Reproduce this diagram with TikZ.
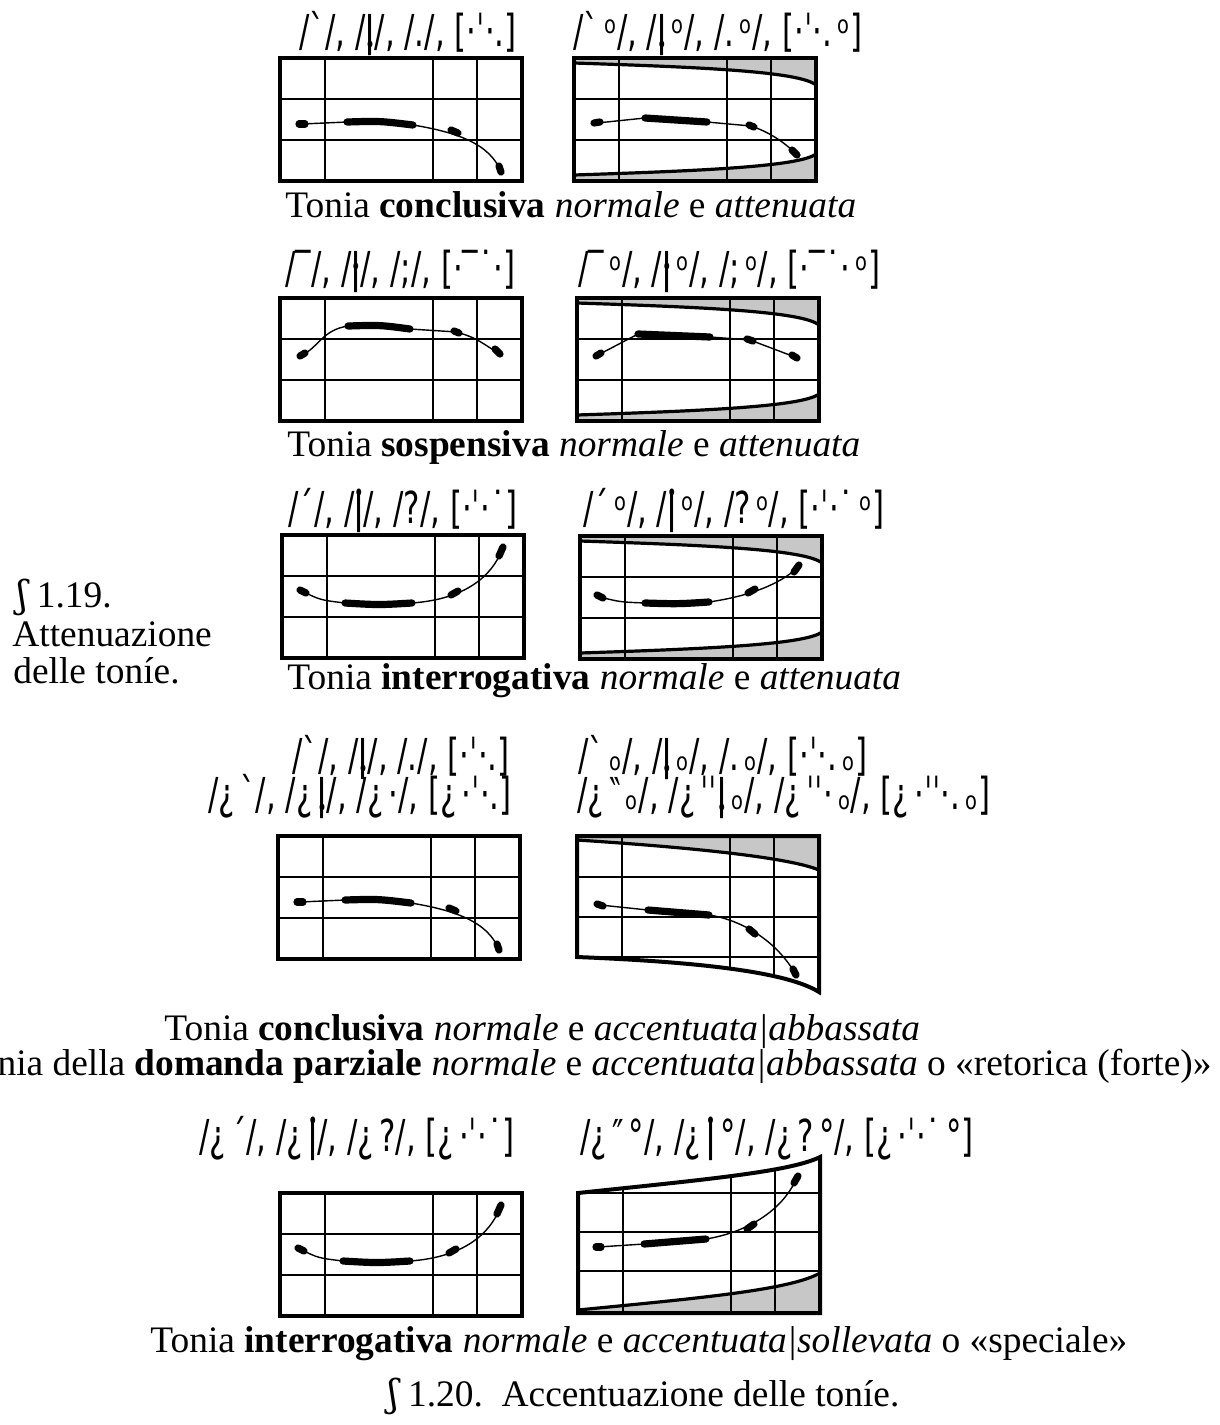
\documentclass[tikz,border=0pt]{standalone}
\usepackage{fontspec}
\usepackage{graphicx}
\setmainfont{Liberation Serif}
\newfontfamily\tonefont{DejaVu Sans}
\newfontfamily\ipafont{DejaVu Serif}
\definecolor{shadegray}{gray}{0.78}
\newcommand\tdotglyph{\scalebox{0.55}{•}}
\newcommand\Sdn{\ooalign{ǀ\cr\hidewidth\raisebox{-0.17em}{\tdotglyph}\hidewidth\cr}}
\newcommand\Smid{\ooalign{ǀ\cr\hidewidth\raisebox{0.17em}{\tdotglyph}\hidewidth\cr}}
\newcommand\Sup{\ooalign{ǀ\cr\hidewidth\raisebox{0.50em}{\tdotglyph}\hidewidth\cr}}
\newcommand\Cmid{\raisebox{0.28em}{ₒ}}
\newcommand\tlab[1]{\scalebox{0.70}[1]{#1}}
\tikzset{
  frame/.style={line width=2pt, line join=miter},
  vthick/.style={line width=1.4pt},
  vthin/.style={line width=1pt},
  hline/.style={line width=0.8pt},
  contour/.style={line width=0.7pt},
  note/.style={line width=3.6pt, line cap=round},
  edgecurve/.style={line width=1.6pt},
  tonelab/.style={inner sep=0pt, font=\tonefont\fontsize{22}{26}\selectfont},
  captext/.style={inner sep=0pt, font=\fontsize{18.7}{22}\selectfont},
  tgrid/.pic={
    \draw[hline] (0,41) -- (242,41) (0,82) -- (242,82);
    \draw[vthick] (45,0) -- (45,123) (153,0) -- (153,123);
    \draw[vthin] (197,0) -- (197,123);
    \draw[frame] (0,0) rectangle (242,123);
  },
  tgridatt/.pic={
    \fill[shadegray] (0,0) -- (0,5) .. controls (120,9) and (225,13) .. (242,27) -- (242,0) -- cycle;
    \fill[shadegray] (0,123) -- (0,117) .. controls (120,113) and (225,109) .. (242,96) -- (242,123) -- cycle;
    \draw[hline] (0,41) -- (242,41) (0,82) -- (242,82);
    \draw[vthick] (45,0) -- (45,123) (153,0) -- (153,123);
    \draw[vthin] (197,0) -- (197,123);
    \draw[edgecurve] (0,5) .. controls (120,9) and (225,13) .. (242,27);
    \draw[edgecurve] (0,117) .. controls (120,113) and (225,109) .. (242,96);
    \draw[frame] (0,0) rectangle (242,123);
  },
  tgriddown/.pic={
    \fill[shadegray] (0,0) -- (0,4) .. controls (123,12) and (213,22) .. (242,34) -- (242,0) -- cycle;
    \begin{scope}
      \clip (0,0) -- (242,0) -- (242,156) .. controls (210,136) and (123,126) .. (0,121) -- cycle;
      \draw[hline] (0,41) -- (242,41) (0,81) -- (242,81) (0,121) -- (242,121);
      \draw[vthick] (45,0) -- (45,170) (153,0) -- (153,170);
      \draw[vthin] (197,0) -- (197,170);
    \end{scope}
    \draw[edgecurve] (0,4) .. controls (123,12) and (213,22) .. (242,34);
    \draw[frame] (0,0) -- (242,0) -- (242,156) .. controls (210,136) and (123,126) .. (0,121) -- cycle;
  },
  tgridup/.pic={
    \fill[shadegray] (0,120) -- (0,117) .. controls (122,105) and (212,97) .. (242,80) -- (242,120) -- cycle;
    \begin{scope}
      \clip (0,120) -- (0,0) .. controls (122,-13) and (212,-21) .. (242,-36) -- (242,120) -- cycle;
      \draw[hline] (0,0) -- (242,0) (0,39) -- (242,39) (0,78) -- (242,78);
      \draw[vthick] (45,-50) -- (45,120) (153,-50) -- (153,120);
      \draw[vthin] (197,-50) -- (197,120);
    \end{scope}
    \draw[edgecurve] (0,117) .. controls (122,105) and (212,97) .. (242,80);
    \draw[frame] (0,120) -- (0,0) .. controls (122,-13) and (212,-21) .. (242,-36) -- (242,120) -- cycle;
  },
  cconc/.pic={
    \draw[contour] (22,66) -- (67,64) .. controls (100,63) .. (133,67) .. controls (175,74) and (210,85) .. (221,114);
    \draw[note] (19,66) -- (25,66);
    \draw[note] (67,64) .. controls (100,63) .. (133,67);
    \draw[note] (171,72) -- (178,75);
    \draw[note] (219,108) -- (221,114);
  },
  cconcatt/.pic={
    \draw[contour] (23,65) -- (71,60) -- (133,64) -- (177,68) .. controls (195,74) and (210,84) .. (221,95);
    \draw[note] (20,65) -- (26,64);
    \draw[note] (71,60) -- (133,64);
    \draw[note] (175,67) -- (180,69);
    \draw[note] (218,92) -- (223,97);
  },
  csosp/.pic={
    \draw[contour] (22,57) .. controls (38,50) and (42,32) .. (68,28) .. controls (100,27) .. (130,31) -- (177,34) .. controls (195,40) .. (218,55);
    \draw[note] (20,58) -- (25,55);
    \draw[note] (68,28) .. controls (100,27) .. (130,31);
    \draw[note] (174,33) -- (179,35);
    \draw[note] (215,51) -- (220,56);
  },
  csospatt/.pic={
    \draw[contour] (21,57) -- (61,36) -- (133,39) -- (173,42) -- (218,59);
    \draw[note] (19,58) -- (24,55);
    \draw[note] (61,36) -- (133,39);
    \draw[note] (170,41) -- (176,43);
    \draw[note] (215,57) -- (220,60);
  },
  cint/.pic={
    \draw[contour] (20,56) .. controls (38,65) .. (63,68) .. controls (97,70) .. (130,68) .. controls (185,64) and (210,40) .. (220,15);
    \draw[note] (18,55) -- (24,58);
    \draw[note] (63,68) .. controls (97,70) .. (130,68);
    \draw[note] (169,60) -- (176,56);
    \draw[note] (217,21) -- (221,12);
  },
  cintatt/.pic={
    \draw[contour] (20,61) .. controls (40,66) .. (65,67) .. controls (98,68) .. (129,66) .. controls (170,60) and (200,48) .. (217,32);
    \draw[note] (17,59) -- (23,62);
    \draw[note] (65,67) .. controls (98,68) .. (129,66);
    \draw[note] (168,57) -- (175,53);
    \draw[note] (214,36) -- (219,29);
  },
  cconcacc/.pic={
    \draw[contour] (23,69) -- (71,74) -- (132,79) .. controls (165,84) and (200,105) .. (219,139);
    \draw[note] (20,68) -- (26,70);
    \draw[note] (71,74) -- (132,79);
    \draw[note] (172,93) -- (178,98);
    \draw[note] (216,133) -- (219,139);
  },
  cintacc/.pic={
    \draw[contour] (20,54) -- (66,51) -- (128,46) .. controls (165,40) and (205,20) .. (220,-18);
    \draw[note] (18,54) -- (23,54);
    \draw[note] (66,51) -- (128,46);
    \draw[note] (169,36) -- (176,31);
    \draw[note] (216,-10) -- (220,-17);
  },
}
\begin{document}
\begin{tikzpicture}[x=0.5pt,y=-0.5pt]
\useasboundingbox (0,0) rectangle (1220,1425);
\fill[white] (0,0) rectangle (1220,1425);

% panel 1
\pic at (280,58) {tgrid};
\pic at (280,58) {cconc};
\pic at (574,58) {tgridatt};
\pic at (574,58) {cconcatt};
\node[tonelab, anchor=base east] (l1) at (517,46) {\tlab{/ˋ/, /\Sdn/, /./, [·ˈ·.]}};
\node[tonelab, anchor=base west] (r1) at (573,46) {\tlab{/ˋ\,\Cmid/, /\Sdn\,\Cmid/, /.\,\Cmid/, [·ˈ·.\,\Cmid]}};
\node[captext, anchor=base west] (c1) at (285,217) {Tonia \textbf{conclusiva} \textit{normale} e \textit{attenuata}};

% panel 2
\pic at (280,298) {tgrid};
\pic at (280,298) {csosp};
\pic at (577,298) {tgridatt};
\pic at (577,298) {csospatt};
\node[tonelab, anchor=base east] (l2) at (516,283) {\tlab{/‾/, /\Smid/, /;/, [·‾˙·]}};
\node[tonelab, anchor=base west] (r2) at (578,283) {\tlab{/‾\,\Cmid/, /\Smid\,\Cmid/, /;\,\Cmid/, [·‾˙·\,\Cmid]}};
\node[captext, anchor=base west] (c2) at (287,456) {Tonia \textbf{sospensiva} \textit{normale} e \textit{attenuata}};

% panel 3
\pic at (282,535) {tgrid};
\pic at (282,535) {cint};
\pic at (580,536) {tgridatt};
\pic at (580,536) {cintatt};
\node[tonelab, anchor=base east] (l3) at (518,523) {\tlab{/ˊ/, /\Sup/, /?/, [·ˈ·˙]}};
\node[tonelab, anchor=base west] (r3) at (583,523) {\tlab{/ˊ\,\Cmid/, /\Sup\,\Cmid/, /?\,\Cmid/, [·ˈ·˙\,\Cmid]}};
\node[captext, anchor=base west] (c3) at (287,689) {Tonia \textbf{interrogativa} \textit{normale} e \textit{attenuata}};

% side caption
\node[captext, anchor=base west] (f19a) at (17,607) {{\ipafont ʃ} 1.19.};
\node[captext, anchor=base west] (f19b) at (12,646) {Attenuazione};
\node[captext, anchor=base west] (f19c) at (13,683) {delle toníe.};

% panel 4
\pic at (278,836) {tgrid};
\pic at (278,836) {cconc};
\pic at (577,836) {tgriddown};
\pic at (577,836) {cconcacc};
\node[tonelab, anchor=base east] (l4a) at (510,770) {\tlab{/ˋ/, /\Sdn/, /./, [·ˈ·.]}};
\node[tonelab, anchor=base east] (l4b) at (512,809) {\tlab{/¿\,ˋ/, /¿\,\Sdn/, /¿\,·/, [¿\,·ˈ·.]}};
\node[tonelab, anchor=base west] (r4a) at (578,770) {\tlab{/ˋ\,ₒ/, /\Sdn\,ₒ/, /.\,ₒ/, [·ˈ·.\,ₒ]}};
\node[tonelab, anchor=base west] (r4b) at (577,809) {\tlab{/¿\,‶\,ₒ/, /¿\,ˈˈ\Sdn\,ₒ/, /¿\,ˈˈ·\,ₒ/, [¿\,·ˈˈ·.\,ₒ]}};
\node[captext, anchor=base west] (c4a) at (164,1040) {Tonia \textbf{conclusiva} \textit{normale} e \textit{accentuata|abbassata}};
\node[captext, anchor=base east] (c4b) at (1212,1075) {Tonia della \textbf{domanda parziale} \textit{normale} e \textit{accentuata|abbassata} o «retorica (forte)»};

% panel 5
\pic at (280,1193) {tgrid};
\pic at (280,1193) {cint};
\pic at (578,1193) {tgridup};
\pic at (578,1193) {cintacc};
\node[tonelab, anchor=base east] (l5) at (515,1151) {\tlab{/¿\,ˊ/, /¿\,\Sup/, /¿\,?/, [¿\,·ˈ·˙]}};
\node[tonelab, anchor=base west] (r5) at (580,1151) {\tlab{/¿\,″\,°/, /¿\,\Sup\,°/, /¿\,?\,°/, [¿\,·ˈ·˙\,°]}};
\node[captext, anchor=base west] (c5) at (150,1352) {Tonia \textbf{interrogativa} \textit{normale} e \textit{accentuata|sollevata} o «speciale»};
\node[captext, anchor=base] (f20) at (644,1406) {{\ipafont ʃ} 1.20.\ \ Accentuazione delle toníe.};
\end{tikzpicture}
\end{document}
